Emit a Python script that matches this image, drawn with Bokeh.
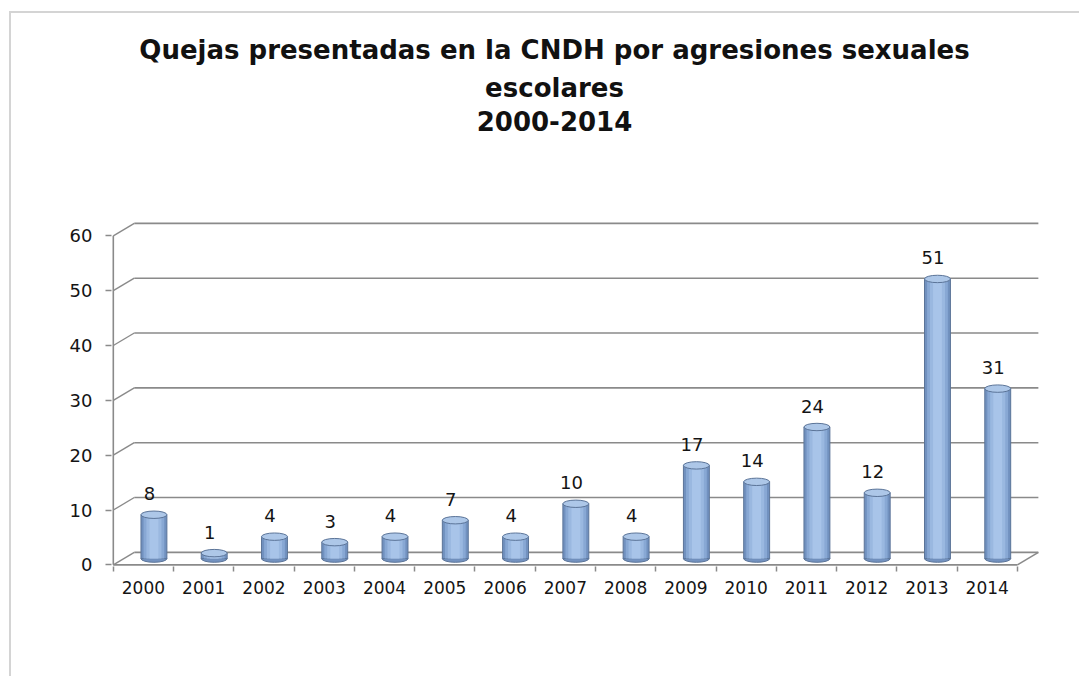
from bokeh.plotting import figure
from bokeh.models import FixedTicker, Range1d, ColumnDataSource
from bokeh.core.properties import value
from bokeh.embed import file_html
from bokeh.resources import INLINE

# ---- data ----
years = ["2000", "2001", "2002", "2003", "2004", "2005", "2006", "2007",
         "2008", "2009", "2010", "2011", "2012", "2013", "2014"]
quejas = [8, 1, 4, 3, 4, 7, 4, 10, 4, 17, 14, 24, 12, 51, 31]
y_ticks = [0, 10, 20, 30, 40, 50, 60]
title_lines = ["Quejas presentadas en la CNDH por agresiones sexuales",
               "escolares",
               "2000-2014"]

# ---- layout / style ----
FONT = "DejaVu Sans"
W, H = 1070, 665
PX_X = 60.27          # pixels per category
PX_Y = 5.48           # pixels per unit of value
DX, DY = 0.348, 2.28  # depth offset of the 3-D back wall (data units)
X0, X1 = -0.53, 14.9
Y0 = -0.3
Y1 = 100.55
frame_w = round((X1 - X0) * PX_X)
frame_h = round((Y1 - Y0) * PX_Y)
ML, MT = 100, 0
MR = W - ML - frame_w
MB = H - MT - frame_h

GRID = "#8a8a8a"
TXT = "#141414"

n = len(years)
idx = list(range(n))
lo, hi = -0.5, n - 0.5

p = figure(width=W, height=H, x_range=Range1d(X0, X1), y_range=Range1d(Y0, Y1),
           output_backend="svg", toolbar_location=None,
           min_border_left=ML, min_border_right=MR,
           min_border_top=MT, min_border_bottom=MB)
p.styles = {"margin-left": "9px", "margin-top": "11px",
            "border-left": "2px solid #d4d4d4", "border-top": "2px solid #d4d4d4"}
p.xgrid.visible = False
p.ygrid.visible = False
p.outline_line_color = None

# axes (labels from the library's axes)
p.xaxis.ticker = FixedTicker(ticks=idx, minor_ticks=[i - 0.5 for i in range(n + 1)])
p.xaxis.major_label_overrides = {i: y for i, y in enumerate(years)}
p.xaxis.axis_line_color = None
p.xaxis.major_tick_out = 0
p.xaxis.major_tick_in = 0
p.xaxis.minor_tick_out = 5
p.xaxis.minor_tick_in = 0
p.xaxis.minor_tick_line_color = GRID
p.xaxis.minor_tick_line_width = 1.5
p.xaxis.major_label_standoff = 9
p.xaxis.major_label_text_font = FONT
p.xaxis.major_label_text_font_size = "17px"
p.xaxis.major_label_text_color = TXT

p.yaxis.ticker = FixedTicker(ticks=y_ticks, minor_ticks=[])
p.yaxis.axis_line_color = None
p.yaxis.major_tick_out = 6
p.yaxis.major_tick_in = 0
p.yaxis.major_tick_line_color = GRID
p.yaxis.major_tick_line_width = 1.5
p.yaxis.minor_tick_out = 0
p.yaxis.minor_tick_in = 0
p.yaxis.major_label_standoff = 13
p.yaxis.major_label_text_font = FONT
p.yaxis.major_label_text_font_size = "18px"
p.yaxis.major_label_text_color = TXT

# 3-D walls: back gridlines, left diagonals, front axis, floor
ymax = y_ticks[-1]
p.segment(x0=[lo + DX] * len(y_ticks), y0=[t + DY for t in y_ticks],
          x1=[hi + DX] * len(y_ticks), y1=[t + DY for t in y_ticks],
          line_color=GRID, line_width=1.6)
p.segment(x0=[lo] * len(y_ticks), y0=y_ticks,
          x1=[lo + DX] * len(y_ticks), y1=[t + DY for t in y_ticks],
          line_color=GRID, line_width=1.4)
p.segment(x0=[lo, lo, hi], y0=[0, 0, 0], x1=[lo, hi, hi + DX], y1=[ymax, 0, DY],
          line_color=GRID, line_width=1.6)

# cylinders
xc = [i + DX / 2 for i in idx]
bottom = [DY / 2] * n
top = [v + DY / 2 for v in quejas]
src = ColumnDataSource(dict(x=xc, b=bottom, t=top, v=quejas,
                            lx=[i + 0.1 for i in idx],
                            lab=[str(v) for v in quejas]))
BW = 0.43
EH = 1.35
OUT = "#5b7498"
p.ellipse(x="x", y="b", width=BW, height=EH, source=src,
          fill_color="#7392c0", line_color=OUT, line_width=1)
p.vbar(x="x", bottom="b", top="t", width=BW, source=src,
       fill_color="#7191bf", line_color=OUT, line_width=1)
p.vbar(x="x", bottom="b", top="t", width=BW * 0.80, source=src,
       fill_color="#88a8d4", line_color=None)
p.vbar(x="x", bottom="b", top="t", width=BW * 0.58, source=src,
       fill_color="#9ab8e0", line_color=None)
p.vbar(x="x", bottom="b", top="t", width=BW * 0.34, source=src,
       fill_color="#a8c4e9", line_color=None)
p.ellipse(x="x", y="t", width=BW, height=EH, source=src,
          fill_color="#adc7e8", line_color=OUT, line_width=1)

# data labels
p.text(x="lx", y="t", text="lab", source=src, y_offset=-21,
       text_align="center", text_baseline="middle",
       text_font=value(FONT), text_font_size="18px", text_color=TXT)

# title (three centred lines)
tx = 6.82
p.text(x=[tx] * 3, y=[93.98, 87.05, 81.03], text=title_lines,
       text_align="center", text_baseline="alphabetic",
       text_font=value(FONT), text_font_style="bold",
       text_font_size="26px", text_color="#111111")

open("out.html", "w").write(file_html(p, INLINE))
